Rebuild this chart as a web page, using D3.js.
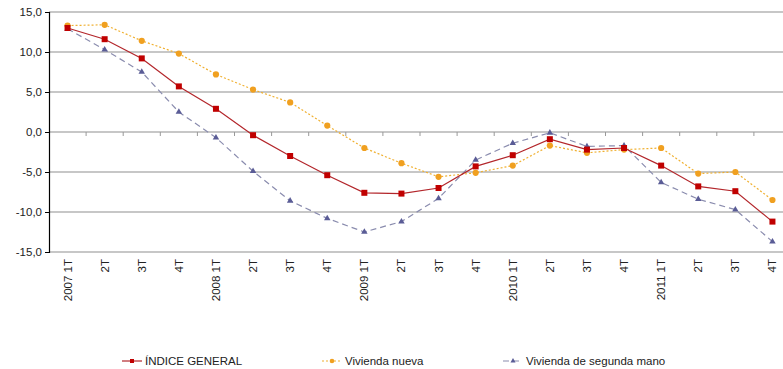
<!DOCTYPE html>
<html>
<head>
<meta charset="utf-8">
<script src="https://cdn.jsdelivr.net/npm/d3@7"></script>
<style>
  html, body { margin: 0; padding: 0; background: #fff; }
  svg { display: block; font-family: "Liberation Sans", Arial, sans-serif; }
</style>
</head>
<body>
<svg id="chart" width="783" height="369"></svg>
<script>
// Quarterly year-on-year change (%) of the housing price index
const quarters = [
  "2007 1T", "2T", "3T", "4T",
  "2008 1T", "2T", "3T", "4T",
  "2009 1T", "2T", "3T", "4T",
  "2010 1T", "2T", "3T", "4T",
  "2011 1T", "2T", "3T", "4T"
];
const indiceGeneral = [13.0, 11.6, 9.2, 5.7, 2.9, -0.4, -3.0, -5.4, -7.6, -7.7, -7.0, -4.3, -2.9, -0.9, -2.2, -2.0, -4.2, -6.8, -7.4, -11.2];
const viviendaNueva = [13.3, 13.4, 11.4, 9.8, 7.2, 5.3, 3.7, 0.8, -2.0, -3.9, -5.6, -5.1, -4.2, -1.7, -2.6, -2.2, -2.0, -5.2, -5.0, -8.5];
const viviendaSegunda = [12.9, 10.3, 7.5, 2.5, -0.7, -4.9, -8.6, -10.8, -12.5, -11.2, -8.3, -3.5, -1.4, -0.1, -1.8, -1.7, -6.3, -8.4, -9.7, -13.7];
const yTicks = [15, 10, 5, 0, -5, -10, -15];

const series = [
  { name: "ÍNDICE GENERAL", values: indiceGeneral, line: "#b3262b", marker: "#c00000", dash: null, width: 1.2, shape: "square" },
  { name: "Vivienda nueva", values: viviendaNueva, line: "#f0b030", marker: "#f0a020", dash: "2,2", width: 1.2, shape: "circle" },
  { name: "Vivienda de segunda mano", values: viviendaSegunda, line: "#8a8cae", marker: "#5a5c96", dash: "6,4", width: 1.2, shape: "triangle" }
];

const svg = d3.select("#chart");
const plotLeft = 49, plotRight = 791, plotTop = 12, plotBottom = 252;

const x = d3.scaleBand().domain(quarters.map((d, i) => i)).range([plotLeft, plotRight]);
const y = d3.scaleLinear().domain([-15, 15]).range([plotBottom, plotTop]);
const cx = i => x(i) + x.bandwidth() / 2;

// Horizontal gridlines
svg.append("g")
  .selectAll("line")
  .data(yTicks)
  .join("line")
  .attr("x1", plotLeft).attr("x2", plotRight)
  .attr("y1", d => y(d)).attr("y2", d => y(d))
  .attr("stroke", "#b4b4b4").attr("stroke-width", 1.3);

// Y axis
const yAxis = d3.axisLeft(y)
  .tickValues(yTicks)
  .tickSize(4)
  .tickFormat(d => d3.format(".1f")(d).replace(".", ",").replace("−", "-"));
const gy = svg.append("g").attr("transform", `translate(${plotLeft},0)`).call(yAxis);
gy.select(".domain").attr("stroke", "#000").attr("stroke-width", 1.2);
gy.selectAll(".tick line").attr("stroke", "#000");
gy.selectAll(".tick text").attr("font-size", 11.5).attr("fill", "#222")
  .attr("font-family", "'Liberation Sans', Arial, sans-serif").attr("x", -7);

// Category ticks on the zero line
svg.append("g")
  .selectAll("line")
  .data(d3.range(1, quarters.length))
  .join("line")
  .attr("x1", i => x(i)).attr("x2", i => x(i))
  .attr("y1", y(0)).attr("y2", y(0) + 4)
  .attr("stroke", "#999").attr("stroke-width", 1);

// Rotated category labels below the plot
svg.append("g")
  .selectAll("text")
  .data(quarters)
  .join("text")
  .attr("transform", (d, i) => `translate(${cx(i) + 4},${plotBottom + 7}) rotate(-90)`)
  .attr("text-anchor", "end")
  .attr("font-size", 11.5)
  .attr("fill", "#222")
  .text(d => d);

// Marker drawing helper
function drawMarker(g, shape, color) {
  if (shape === "square") {
    g.append("rect").attr("x", -3).attr("y", -3).attr("width", 6).attr("height", 6).attr("fill", color);
  } else if (shape === "circle") {
    g.append("circle").attr("r", 3.1).attr("fill", color);
  } else {
    g.append("path").attr("d", d3.symbol(d3.symbolTriangle, 18)()).attr("fill", color);
  }
}

const lineGen = d3.line().x((d, i) => cx(i)).y(d => y(d));

// Draw in back-to-front order: segunda mano, nueva, general
[series[2], series[1], series[0]].forEach(s => {
  svg.append("path")
    .datum(s.values)
    .attr("d", lineGen)
    .attr("fill", "none")
    .attr("stroke", s.line)
    .attr("stroke-width", s.width)
    .attr("stroke-dasharray", s.dash);
  s.values.forEach((v, i) => {
    const g = svg.append("g").attr("transform", `translate(${cx(i)},${y(v)})`);
    drawMarker(g, s.shape, s.marker);
  });
});

// Legend
const legendX = [122, 322, 503];
const legendY = 361;
series.forEach((s, k) => {
  const g = svg.append("g").attr("transform", `translate(${legendX[k]},${legendY})`);
  g.append("line").attr("x1", 0).attr("x2", 20).attr("y1", 0).attr("y2", 0)
    .attr("stroke", s.line).attr("stroke-width", s.width).attr("stroke-dasharray", s.dash);
  const m = g.append("g").attr("transform", "translate(10,0)");
  if (s.shape === "square") {
    m.append("rect").attr("x", -2).attr("y", -2).attr("width", 4).attr("height", 4).attr("fill", s.marker);
  } else if (s.shape === "circle") {
    m.append("circle").attr("r", 2.3).attr("fill", s.marker);
  } else {
    m.append("path").attr("d", d3.symbol(d3.symbolTriangle, 11)()).attr("fill", s.marker);
  }
  g.append("text").attr("x", 23).attr("y", 4)
    .attr("font-size", 11.5).attr("fill", "#222").text(s.name);
});
</script>
</body>
</html>
